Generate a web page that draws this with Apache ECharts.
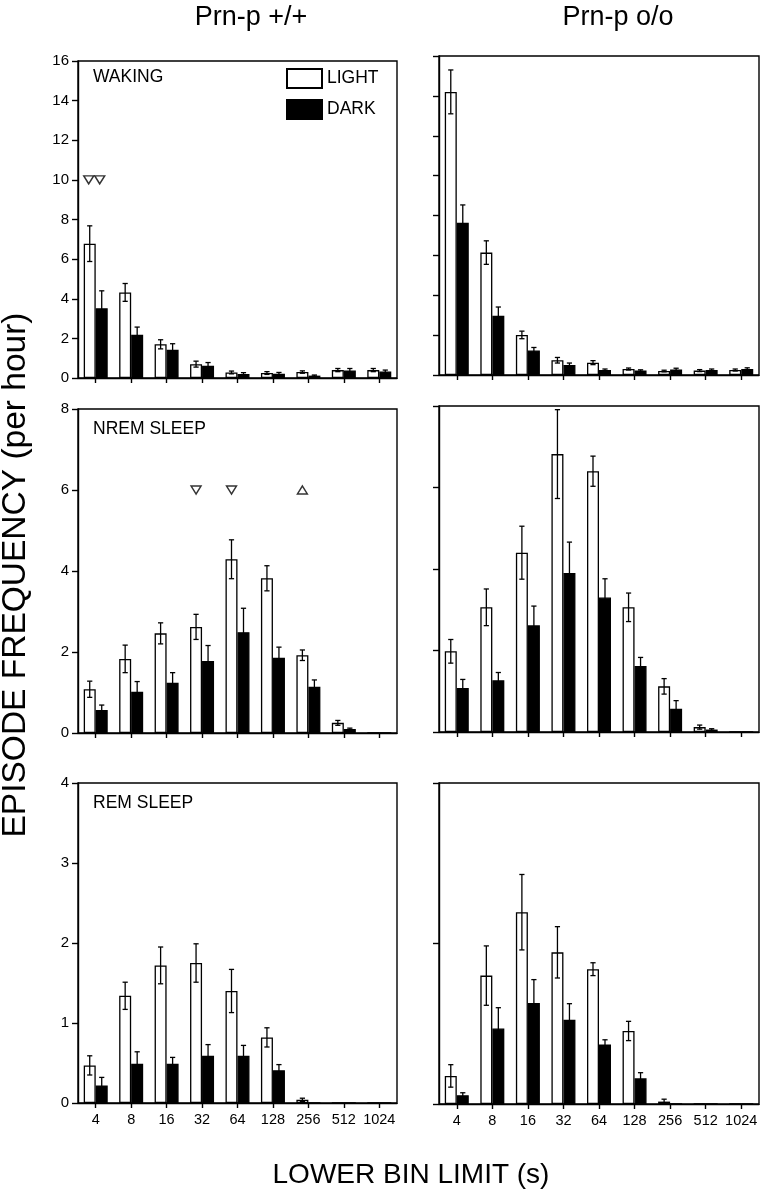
<!DOCTYPE html>
<html>
<head>
<meta charset="utf-8">
<script src="https://cdn.jsdelivr.net/npm/echarts@6/dist/echarts.min.js"></script>
<style>
html,body{margin:0;padding:0;background:#fff;}
#chart{width:766px;height:1199px;}
</style>
</head>
<body>
<div id="chart"></div>
<script>
// ---------- DATA ----------
const categories = ['4','8','16','32','64','128','256','512','1024'];

// WAKING, Prn-p +/+
const wakeWtLight   = [6.78, 4.32, 1.70, 0.70, 0.28, 0.25, 0.30, 0.40, 0.40];
const wakeWtLightSE = [0.90, 0.45, 0.23, 0.15, 0.07, 0.07, 0.06, 0.08, 0.08];
const wakeWtDark    = [3.52, 2.18, 1.43, 0.62, 0.20, 0.22, 0.12, 0.38, 0.33];
const wakeWtDarkSE  = [0.88, 0.39, 0.30, 0.16, 0.07, 0.06, 0.03, 0.10, 0.07];
// WAKING, Prn-p o/o
const wakeKoLight   = [14.2, 6.14, 2.01, 0.74, 0.62, 0.30, 0.20, 0.22, 0.25];
const wakeKoLightSE = [1.10, 0.59, 0.19, 0.14, 0.10, 0.05, 0.04, 0.05, 0.05];
const wakeKoDark    = [7.64, 2.97, 1.23, 0.50, 0.25, 0.22, 0.28, 0.25, 0.30];
const wakeKoDarkSE  = [0.89, 0.44, 0.15, 0.10, 0.05, 0.04, 0.06, 0.05, 0.06];

// NREM SLEEP, Prn-p +/+
const nremWtLight   = [1.08, 1.83, 2.46, 2.62, 4.29, 3.82, 1.92, 0.25, 0];
const nremWtLightSE = [0.20, 0.34, 0.26, 0.31, 0.48, 0.31, 0.13, 0.06, 0];
const nremWtDark    = [0.57, 1.02, 1.24, 1.78, 2.49, 1.86, 1.14, 0.10, 0];
const nremWtDarkSE  = [0.12, 0.25, 0.25, 0.38, 0.59, 0.26, 0.17, 0.02, 0];
// NREM SLEEP, Prn-p o/o
const nremKoLight   = [1.98, 3.06, 4.40, 6.82, 6.40, 3.06, 1.12, 0.12, 0];
const nremKoLightSE = [0.29, 0.45, 0.65, 1.09, 0.37, 0.35, 0.19, 0.05, 0];
const nremKoDark    = [1.08, 1.27, 2.62, 3.90, 3.30, 1.62, 0.57, 0.06, 0];
const nremKoDarkSE  = [0.21, 0.19, 0.47, 0.76, 0.46, 0.21, 0.20, 0.02, 0];

// REM SLEEP, Prn-p +/+
const remWtLight    = [0.47, 1.34, 1.72, 1.75, 1.40, 0.82, 0.04, 0, 0];
const remWtLightSE  = [0.12, 0.17, 0.23, 0.24, 0.27, 0.12, 0.02, 0, 0];
const remWtDark     = [0.22, 0.49, 0.49, 0.59, 0.59, 0.41, 0, 0, 0];
const remWtDarkSE   = [0.10, 0.15, 0.08, 0.14, 0.13, 0.07, 0, 0, 0];
// REM SLEEP, Prn-p o/o
const remKoLight    = [0.35, 1.60, 2.39, 1.89, 1.68, 0.91, 0.03, 0, 0];
const remKoLightSE  = [0.14, 0.37, 0.47, 0.32, 0.08, 0.12, 0.03, 0, 0];
const remKoDark     = [0.11, 0.94, 1.26, 1.05, 0.74, 0.32, 0, 0, 0];
const remKoDarkSE   = [0.03, 0.26, 0.29, 0.20, 0.06, 0.07, 0, 0, 0];

// Significance markers: [category, value]
const wakeWtMarkersLight = [['4', 10]];
const wakeWtMarkersDark  = [['4', 10]];
const nremWtMarkersDown  = [['32', 6], ['64', 6]];
const nremWtMarkersUp    = [['256', 6]];

// y axis [min, max, interval]
const yTicksWake  = [0, 16, 2];
const yTicksNrem  = [0, 8, 2];
const yTicksRem   = [0, 4, 1];
const yTicksRemKo = [0, 4, 2];

// ---------- LAYOUT ----------
const FONT = 'Liberation Sans, Arial, Helvetica, sans-serif';
const BW = 12; // bar width in px
const panels = [
  {grid:{left:78, top:61, width:319, height:317}, ticks:yTicksWake, showY:true,  showX:false, light:wakeWtLight, lightSE:wakeWtLightSE, dark:wakeWtDark, darkSE:wakeWtDarkSE},
  {grid:{left:439,top:56, width:320, height:319}, ticks:yTicksWake, showY:false, showX:false, light:wakeKoLight, lightSE:wakeKoLightSE, dark:wakeKoDark, darkSE:wakeKoDarkSE},
  {grid:{left:78, top:409,width:319, height:324}, ticks:yTicksNrem, showY:true,  showX:false, light:nremWtLight, lightSE:nremWtLightSE, dark:nremWtDark, darkSE:nremWtDarkSE},
  {grid:{left:439,top:406,width:320, height:326}, ticks:yTicksNrem, showY:false, showX:false, light:nremKoLight, lightSE:nremKoLightSE, dark:nremKoDark, darkSE:nremKoDarkSE},
  {grid:{left:78, top:783,width:319, height:320}, ticks:yTicksRem,  showY:true,  showX:true,  light:remWtLight, lightSE:remWtLightSE, dark:remWtDark, darkSE:remWtDarkSE},
  {grid:{left:439,top:783,width:320, height:321}, ticks:yTicksRemKo,showY:false, showX:true,  light:remKoLight, lightSE:remKoLightSE, dark:remKoDark, darkSE:remKoDarkSE}
];

const grids = [], xAxes = [], yAxes = [], series = [];
const axisLineStyle = {color:'#000', width:1.4};

function errSeries(i, vals, ses, offset) {
  return {
    type:'custom', xAxisIndex:i, yAxisIndex:i, z:5, silent:true,
    data: vals.map((v, k) => [k, v, ses[k]]),
    renderItem: function (params, api) {
      const k = api.value(0), v = api.value(1), se = api.value(2);
      if (!se) return null;
      const lo = Math.max(0, v - se), hi = v + se;
      const pTop = api.coord([k, hi]);
      const pBot = api.coord([k, lo]);
      const x = pTop[0] + offset;
      const c = 2.6;
      const st = {stroke:'#000', lineWidth:1.3};
      return {type:'group', children:[
        {type:'line', shape:{x1:x, y1:pTop[1], x2:x, y2:pBot[1]}, style:st},
        {type:'line', shape:{x1:x-c, y1:pTop[1], x2:x+c, y2:pTop[1]}, style:st},
        {type:'line', shape:{x1:x-c, y1:pBot[1], x2:x+c, y2:pBot[1]}, style:st}
      ]};
    }
  };
}

panels.forEach((p, i) => {
  grids.push(Object.assign({show:true, borderColor:'#000', borderWidth:1.4, backgroundColor:'#fff'}, p.grid));
  xAxes.push({
    type:'category', gridIndex:i, data:categories, boundaryGap:true,
    axisLine:{show:true, onZero:false, lineStyle:axisLineStyle},
    axisTick:{show:true, alignWithLabel:true, inside:false, length:5, lineStyle:axisLineStyle},
    axisLabel:{show:p.showX, color:'#000', fontSize:14.5, fontFamily:FONT, margin:9, interval:0},
    splitLine:{show:false}
  });
  yAxes.push({
    type:'value', gridIndex:i, min:p.ticks[0], max:p.ticks[1], interval:p.ticks[2],
    axisLine:{show:true, lineStyle:axisLineStyle},
    axisTick:{show:true, inside:false, length:6, lineStyle:axisLineStyle},
    axisLabel:{show:p.showY, color:'#000', fontSize:15, fontFamily:FONT, margin:9},
    splitLine:{show:false}
  });
  series.push({
    name:'LIGHT', type:'bar', xAxisIndex:i, yAxisIndex:i, data:p.light,
    barWidth:BW, barGap:'0%', silent:true,
    itemStyle:{color:'#fff', borderColor:'#000', borderWidth:1.3}
  });
  series.push({
    name:'DARK', type:'bar', xAxisIndex:i, yAxisIndex:i, data:p.dark,
    barWidth:BW, barGap:'0%', silent:true,
    itemStyle:{color:'#000', borderColor:'#000', borderWidth:1.3}
  });
  series.push(errSeries(i, p.light, p.lightSE, -BW/2));
  series.push(errSeries(i, p.dark, p.darkSE, BW/2));
});

const triStyle = {color:'#fff', borderColor:'#000', borderWidth:1.4};
function markerSeries(gi, data, rotate, offX) {
  return {type:'scatter', xAxisIndex:gi, yAxisIndex:gi, data:data, symbol:'triangle',
    symbolSize:[10,8], symbolRotate:rotate, symbolOffset:[offX,0], itemStyle:triStyle, z:6, silent:true};
}
series.push(markerSeries(0, wakeWtMarkersLight, 180, -7));
series.push(markerSeries(0, wakeWtMarkersDark, 180, 4));
series.push(markerSeries(2, nremWtMarkersDown, 180, -6));
series.push(markerSeries(2, nremWtMarkersUp, 0, -6));

const txt = (o) => Object.assign({type:'text', silent:true}, o);
const graphic = [
  txt({x:251, y:18, style:{text:'Prn-p +/+', font:'27px ' + FONT, fill:'#000', textAlign:'center', textVerticalAlign:'middle'}}),
  txt({x:618, y:18, style:{text:'Prn-p o/o', font:'27px ' + FONT, fill:'#000', textAlign:'center', textVerticalAlign:'middle'}}),
  txt({x:16, y:575, rotation:Math.PI/2, style:{text:'EPISODE FREQUENCY (per hour)', font:'33.5px ' + FONT, fill:'#000', textAlign:'center', textVerticalAlign:'middle'}}),
  txt({x:411, y:1175, style:{text:'LOWER BIN LIMIT (s)', font:'28px ' + FONT, fill:'#000', textAlign:'center', textVerticalAlign:'middle'}}),
  txt({x:93, y:77, style:{text:'WAKING', font:'17.5px ' + FONT, fill:'#000', textAlign:'left', textVerticalAlign:'middle'}}),
  txt({x:93, y:429, style:{text:'NREM SLEEP', font:'17.5px ' + FONT, fill:'#000', textAlign:'left', textVerticalAlign:'middle'}}),
  txt({x:93, y:803, style:{text:'REM SLEEP', font:'17.5px ' + FONT, fill:'#000', textAlign:'left', textVerticalAlign:'middle'}})
];

const chart = echarts.init(document.getElementById('chart'), null, {renderer:'canvas'});
chart.setOption({
  animation:false,
  backgroundColor:'#fff',
  grid:grids, xAxis:xAxes, yAxis:yAxes, series:series,
  legend:{
    data:['LIGHT','DARK'], orient:'vertical', left:286, top:68, padding:0,
    itemWidth:35, itemHeight:19, itemGap:10,
    icon:'rect', selectedMode:false,
    textStyle:{color:'#000', fontSize:17.5, fontFamily:FONT}
  },
  graphic:graphic
});
</script>
</body>
</html>
